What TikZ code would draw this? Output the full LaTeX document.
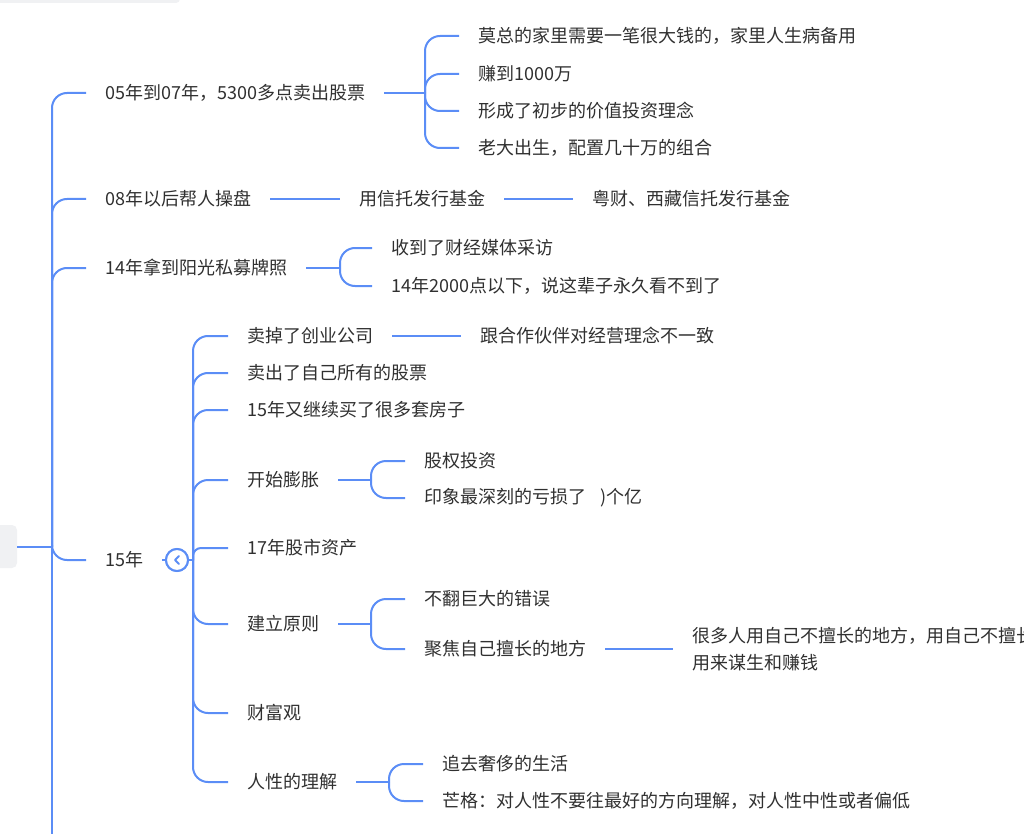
\documentclass[tikz,border=0pt]{standalone}
\usepackage{fontspec}
\setmainfont{Noto Sans CJK SC}
\usetikzlibrary{positioning,calc}
\definecolor{linkblue}{HTML}{5B8DF6}
\definecolor{inkgrey}{HTML}{303030}
\definecolor{panelgrey}{HTML}{F0F1F3}
\tikzset{
  topic/.style={anchor=west,inner xsep=19pt,inner ysep=2pt,text=inkgrey,
                font=\fontsize{18pt}{27pt}\selectfont},
  link/.style={draw=linkblue,line width=2pt},
  branch/.style={link,rounded corners=15pt},
  foldbtn/.style={circle,draw=linkblue,line width=2pt,fill=white,minimum size=22pt,inner sep=0},
}

\begin{document}
\begin{tikzpicture}[x=1pt,y=-1pt]
  \useasboundingbox (0,0) rectangle (1024,834);
  % what is left of the toolbar and of the root topic at the window edge
  \fill[panelgrey,rounded corners=4pt] (-6,-6) rectangle (180,3);
  \fill[panelgrey,rounded corners=5pt] (-8,525) rectangle (17,568);
  \coordinate (root) at (17,547);
  \coordinate (rootfork) at (52,547);
  \coordinate (rootend) at (52,840);

  % first level
  \node[topic] (n05) at (86,93) {05年到07年，5300多点卖出股票};
  \node[topic] (n08) at (86,199) {08年以后帮人操盘};
  \node[topic] (n14) at (86,268) {14年拿到阳光私募牌照};
  \node[topic] (n15) at (86,560) {15年};

  \node[topic] (n05a) at (459,36) {莫总的家里需要一笔很大钱的，家里人生病备用};
  \node[topic] (n05b) at (459,74) {赚到1000万};
  \node[topic] (n05c) at (459,111) {形成了初步的价值投资理念};
  \node[topic] (n05d) at (459,148) {老大出生，配置几十万的组合};
  \coordinate (f05) at (425,93);

  \node[topic] (n08a) at (340,199) {用信托发行基金};
  \node[topic] (n08b) at (573,199) {粤财、西藏信托发行基金};

  \node[topic] (n14a) at (372,248) {收到了财经媒体采访};
  \node[topic] (n14b) at (372,286) {14年2000点以下，说这辈子永久看不到了};
  \coordinate (f14) at (340,268);

  % the 15 branch, unfolded
  \node[foldbtn] (fold) at (177,560) {};
  \coordinate (f15) at (193,560);
  \node[topic] (s1) at (228,336) {卖掉了创业公司};
  \node[topic] (s2) at (228,373) {卖出了自己所有的股票};
  \node[topic] (s3) at (228,410) {15年又继续买了很多套房子};
  \node[topic] (s4) at (228,480) {开始膨胀};
  \node[topic] (s5) at (228,548) {17年股市资产};
  \node[topic] (s6) at (228,624) {建立原则};
  \node[topic] (s7) at (228,713) {财富观};
  \node[topic] (s8) at (228,782) {人性的理解};

  \node[topic] (s1a) at (461,336) {跟合作伙伴对经营理念不一致};

  \node[topic] (s4a) at (405,461) {股权投资};
  \node[topic] (s4b) at (405,498) {印象最深刻的亏损了\hspace{14pt})个亿};
  \coordinate (f4) at (371,480);

  \node[topic] (s6a) at (405,599) {不翻巨大的错误};
  \node[topic] (s6b) at (405,649) {聚焦自己擅长的地方};
  \coordinate (f6) at (371,624);
  \node[topic,align=left] (s6c) at (673,649) {很多人用自己不擅长的地方，用自己不擅长\\用来谋生和赚钱};

  \node[topic] (s8a) at (423,764) {追去奢侈的生活};
  \node[topic] (s8b) at (423,801) {芒格：对人性不要往最好的方向理解，对人性中性或者偏低};
  \coordinate (f8) at (389,782);

  % connectors
  \draw[link] (root) -- (rootfork) -- (rootend);
  \foreach \c in {n05,n08,n14,n15}
    \draw[branch] (rootfork) |- (\c.west);

  \draw[link] (n05.east) -- (f05);
  \foreach \c in {n05a,n05b,n05c,n05d}
    \draw[branch] (f05) |- (\c.west);

  \draw[link] (n08.east) -- (n08a.west);
  \draw[link] (n08a.east) -- (n08b.west);

  \draw[link] (n14.east) -- (f14);
  \foreach \c in {n14a,n14b}
    \draw[branch] (f14) |- (\c.west);

  \draw[link] (n15.east) -- (fold.west);
  \draw[link] (fold.east) -- (f15);
  \foreach \c in {s1,s2,s3,s4,s6,s7,s8}
    \draw[branch] (f15) |- (\c.west);
  \draw[link,rounded corners=8pt] (f15) |- (s5.west);

  \draw[link] (s1.east) -- (s1a.west);

  \draw[link] (s4.east) -- (f4);
  \foreach \c in {s4a,s4b}
    \draw[branch] (f4) |- (\c.west);

  \draw[link] (s6.east) -- (f6);
  \foreach \c in {s6a,s6b}
    \draw[branch] (f6) |- (\c.west);
  \draw[link] (s6b.east) -- (s6c.west);

  \draw[link] (s8.east) -- (f8);
  \foreach \c in {s8a,s8b}
    \draw[branch] (f8) |- (\c.west);

  % the fold mark
  \node[foldbtn] at (fold) {};
  \draw[link,line width=1.8pt,line cap=round,line join=round]
    ($(fold.center)+(2,-4)$) -- ($(fold.center)+(-2,0)$) -- ($(fold.center)+(2,4)$);
\end{tikzpicture}
\end{document}
